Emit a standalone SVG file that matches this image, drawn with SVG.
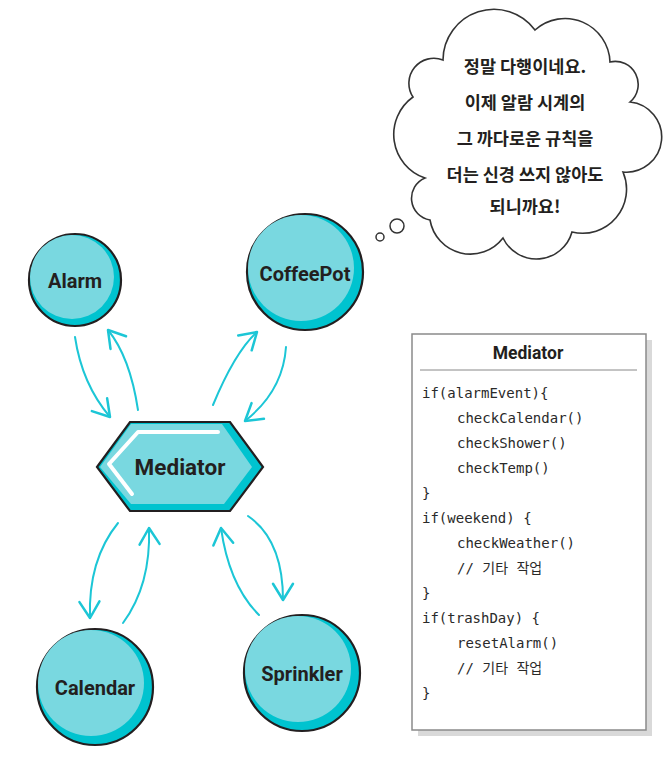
<svg xmlns="http://www.w3.org/2000/svg" width="663" height="773" viewBox="0 0 663 773">
<style>
.node-dark{fill:#00c3cf;stroke:#231f20;stroke-width:2.2}
.node-light{fill:#79d8e0}
.label{font-family:Roboto,"Liberation Sans",sans-serif;font-weight:bold;fill:#231f20;text-anchor:middle}
.conn{fill:none;stroke:#1cc6d6;stroke-width:2;stroke-linecap:round}
.code{font-family:"DejaVu Sans Mono","Noto Sans CJK KR",monospace;font-size:14px;fill:#2a2a2a}
.talk{font-family:"Noto Sans CJK KR",sans-serif;font-size:17.5px;font-weight:bold;fill:#231f20;text-anchor:middle}
</style>
<defs>
<marker id="arrow" markerUnits="userSpaceOnUse" markerWidth="30" markerHeight="30" refX="0" refY="0" viewBox="-16 -12 20 24" orient="auto" overflow="visible">
<path d="M-13,-8 L0,0 L-13,8" fill="none" stroke="#1cc6d6" stroke-width="2" stroke-linecap="round" stroke-linejoin="round"/>
</marker>
</defs>
<rect width="663" height="773" fill="#fff"/>

<g id="thought">
<path d="M443,60 A51,51 0 0 1 535,30 A45,45 0 0 1 610,62 A23,23 0 0 1 630,102 A35,35 0 0 1 623,172 A44,44 0 0 1 572,232 A37,37 0 0 1 503,238 A41,41 0 0 1 430,220 A22,22 0 0 1 425,178 A46,46 0 0 1 413,97 A25,25 0 0 1 443,60 Z" fill="#fff" stroke="#333" stroke-width="1.6"/>
<circle cx="397" cy="226" r="7" fill="#fff" stroke="#333" stroke-width="1.5"/>
<circle cx="380" cy="237" r="4" fill="#fff" stroke="#333" stroke-width="1.5"/>
<text class="talk" x="525" y="73">정말 다행이네요.</text>
<text class="talk" x="525" y="109">이제 알람 시계의</text>
<text class="talk" x="525" y="145">그 까다로운 규칙을</text>
<text class="talk" x="525" y="181">더는 신경 쓰지 않아도</text>
<text class="talk" x="525" y="213">되니까요!</text>
</g>

<g id="connectors">
<path class="conn" d="M75,337 Q82,384 110,417" marker-end="url(#arrow)"/>
<path class="conn" d="M138,410 Q130,357 108,330" marker-end="url(#arrow)"/>
<path class="conn" d="M213,405 Q235,352 257,332" marker-end="url(#arrow)"/>
<path class="conn" d="M286,347 Q283,391 245,421" marker-end="url(#arrow)"/>
<path class="conn" d="M118,523 Q88,560 90,618" marker-end="url(#arrow)"/>
<path class="conn" d="M123,623 Q151,585 149,528" marker-end="url(#arrow)"/>
<path class="conn" d="M259,615 Q229,585 221,528" marker-end="url(#arrow)"/>
<path class="conn" d="M248,516 Q283,540 283,600" marker-end="url(#arrow)"/>
</g>

<g id="alarm">
<circle class="node-dark" cx="75" cy="280" r="46"/>
<circle class="node-light" cx="72" cy="277" r="42"/>
<text class="label" x="75" y="288" font-size="20">Alarm</text>
</g>

<g id="coffeepot">
<circle class="node-dark" cx="305" cy="272" r="58"/>
<circle class="node-light" cx="301" cy="268" r="53"/>
<text class="label" x="305" y="281" font-size="20">CoffeePot</text>
</g>

<g id="calendar">
<circle class="node-dark" cx="95" cy="687" r="58"/>
<circle class="node-light" cx="91" cy="683" r="53"/>
<text class="label" x="95" y="695" font-size="20">Calendar</text>
</g>

<g id="sprinkler">
<circle class="node-dark" cx="302" cy="673" r="58"/>
<circle class="node-light" cx="298" cy="669" r="53"/>
<text class="label" x="302" y="681" font-size="20">Sprinkler</text>
</g>

<g id="mediator">
<polygon class="node-dark" points="97,467 130,422 230,422 263,467 230,511 130,511"/>
<polygon class="node-light" points="100,467 131,424 222,424 252,467 224,504 131,504"/>
<polyline points="218,432 138,432 109,464 132,494" fill="none" stroke="#fff" stroke-width="4" stroke-linecap="round" stroke-linejoin="round"/>
<text class="label" x="180" y="475" font-size="22.5">Mediator</text>
</g>

<g id="mediator-code">
<rect x="418" y="340" width="234" height="396" fill="#d9d9d9"/>
<rect x="412" y="334" width="234" height="396" fill="#fff" stroke="#8a8a8a" stroke-width="1.5"/>
<text class="label" x="528" y="359" font-size="17.5">Mediator</text>
<line x1="420" y1="370" x2="637" y2="370" stroke="#888" stroke-width="1"/>
<text class="code" x="422" y="398">if(alarmEvent){</text>
<text class="code" x="457" y="423">checkCalendar()</text>
<text class="code" x="457" y="448">checkShower()</text>
<text class="code" x="457" y="473">checkTemp()</text>
<text class="code" x="422" y="498">}</text>
<text class="code" x="422" y="523">if(weekend) {</text>
<text class="code" x="457" y="548">checkWeather()</text>
<text class="code" x="457" y="573">// 기타 작업</text>
<text class="code" x="422" y="598">}</text>
<text class="code" x="422" y="623">if(trashDay) {</text>
<text class="code" x="457" y="648">resetAlarm()</text>
<text class="code" x="457" y="673">// 기타 작업</text>
<text class="code" x="422" y="698">}</text>
</g>
</svg>
